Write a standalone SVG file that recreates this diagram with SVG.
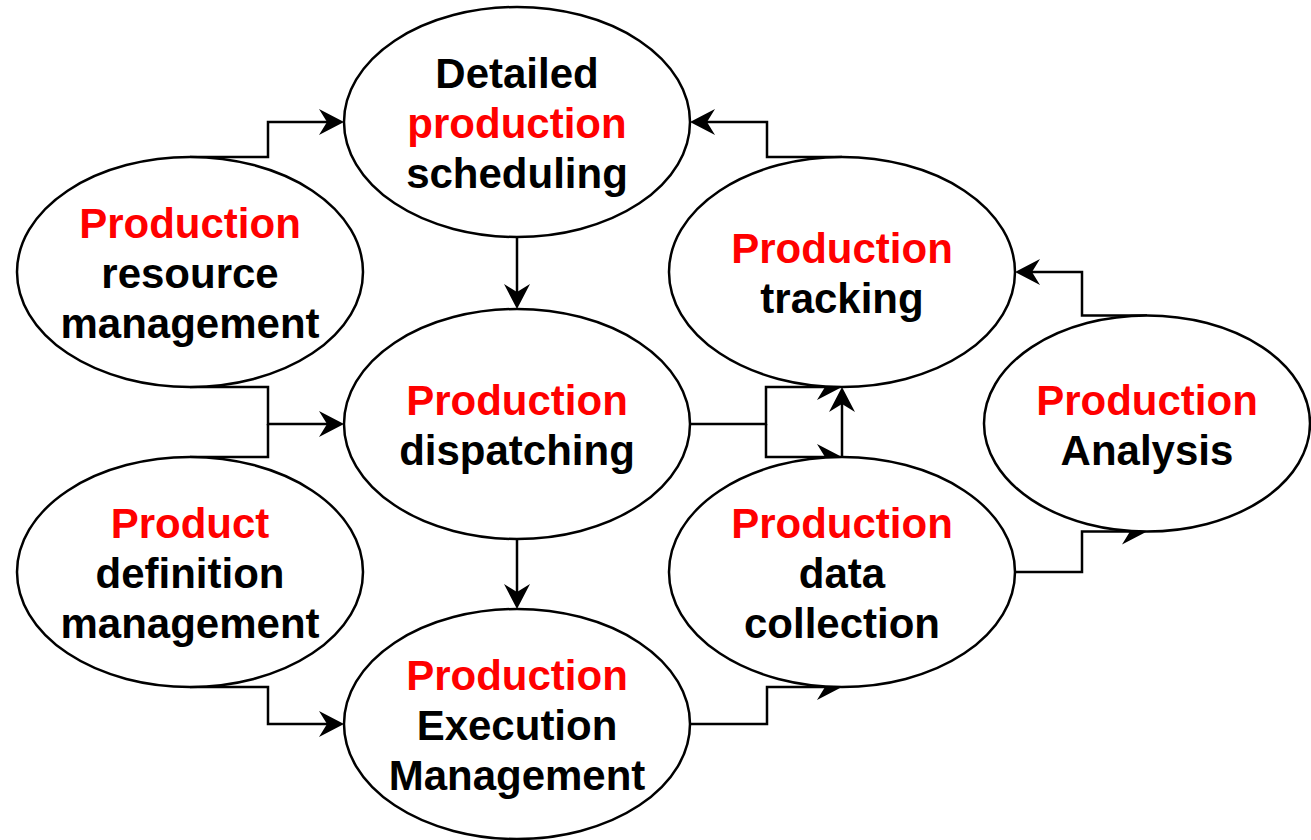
<svg xmlns="http://www.w3.org/2000/svg" width="1311" height="840" viewBox="0 0 1311 840">
<style>
.node ellipse{fill:#fff;stroke:#000;stroke-width:2.5}
text{font-family:"Liberation Sans",Arial,sans-serif;font-weight:bold;font-size:42px;text-anchor:middle;fill:#000}
.r{fill:#ff0000}
.conn path{fill:none;stroke:#000;stroke-width:2.5;marker-end:url(#arr)}
.conn path.nm{marker-end:none}
</style>
<defs>
<marker id="arr" markerUnits="userSpaceOnUse" markerWidth="28" markerHeight="28" viewBox="0 -14 28 28" refX="8" refY="0" orient="auto" overflow="visible">
<path d="M0,-13 L25,0 L0,13 L8,0 Z" fill="#000"/>
</marker>
</defs>
<rect width="1311" height="840" fill="#fff"/>
<g class="conn" id="connectors">
<path d="M190,157 H268 V122 H327"/>
<path d="M517,237 V292"/>
<path d="M190,387 H268 V424 H327"/>
<path class="nm" d="M190,457 H268 V424"/>
<path d="M517,539 V592"/>
<path d="M190,687 H268 V724 H327"/>
<path d="M842,157 H767 V122 H707"/>
<path d="M690,424 H766 V387 H825"/>
<path d="M766,424 V457 H825"/>
<path d="M842,457 V404"/>
<path d="M1147,315.5 H1082 V272 H1032"/>
<path d="M1015,572 H1082 V531.5 H1130"/>
<path d="M690,724 H767 V687 H825"/>
</g>
<g class="node" id="n-scheduling">
<ellipse cx="517" cy="122" rx="173" ry="115"/>
<text x="517" y="88">Detailed</text>
<text x="517" y="138" class="r">production</text>
<text x="517" y="188">scheduling</text>
</g>
<g class="node" id="n-resource">
<ellipse cx="190" cy="272" rx="173" ry="115"/>
<text x="190" y="238" class="r">Production</text>
<text x="190" y="288">resource</text>
<text x="190" y="338">management</text>
</g>
<g class="node" id="n-dispatching">
<ellipse cx="517" cy="424" rx="173" ry="115"/>
<text x="517" y="415" class="r">Production</text>
<text x="517" y="465">dispatching</text>
</g>
<g class="node" id="n-definition">
<ellipse cx="190" cy="572" rx="173" ry="115"/>
<text x="190" y="538" class="r">Product</text>
<text x="190" y="588">definition</text>
<text x="190" y="638">management</text>
</g>
<g class="node" id="n-execution">
<ellipse cx="517" cy="724" rx="173" ry="115"/>
<text x="517" y="690" class="r">Production</text>
<text x="517" y="740">Execution</text>
<text x="517" y="790">Management</text>
</g>
<g class="node" id="n-tracking">
<ellipse cx="842" cy="272" rx="173" ry="115"/>
<text x="842" y="263" class="r">Production</text>
<text x="842" y="313">tracking</text>
</g>
<g class="node" id="n-datacollection">
<ellipse cx="842" cy="572" rx="173" ry="115"/>
<text x="842" y="538" class="r">Production</text>
<text x="842" y="588">data</text>
<text x="842" y="638">collection</text>
</g>
<g class="node" id="n-analysis">
<ellipse cx="1147" cy="423.5" rx="163" ry="108"/>
<text x="1147" y="415" class="r">Production</text>
<text x="1147" y="465">Analysis</text>
</g>
</svg>
